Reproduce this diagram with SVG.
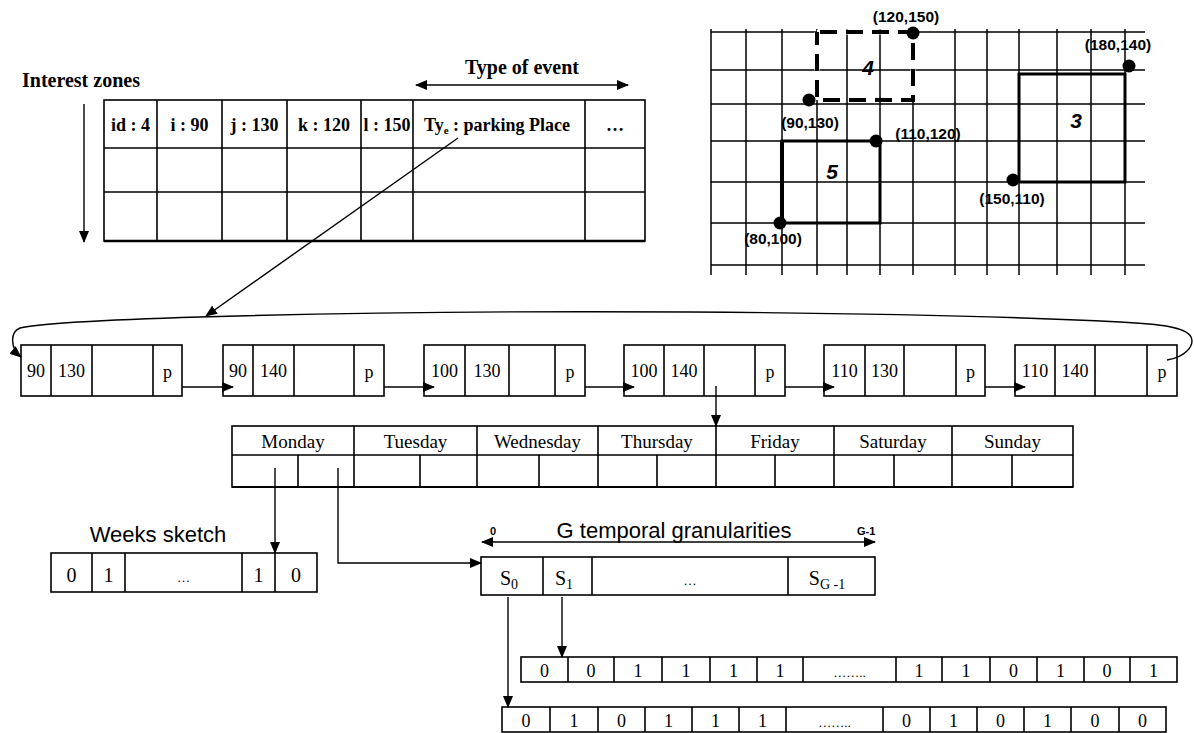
<svg xmlns="http://www.w3.org/2000/svg" width="1194" height="733" viewBox="0 0 1194 733">
<style>
.bx{fill:none;stroke:#000;stroke-width:1.6}
.ln{fill:none;stroke:#000;stroke-width:1.4}
.grid{fill:none;stroke:#000;stroke-width:1.5}
.zone{fill:none;stroke:#000;stroke-width:3}
.dash{fill:none;stroke:#000;stroke-width:4;stroke-dasharray:17,9}
.tb{font-family:"Liberation Serif","Times New Roman",serif;font-weight:bold;font-size:18px;text-anchor:middle}
.hd{font-family:"Liberation Serif","Times New Roman",serif;font-weight:bold;font-size:20px}
.co{font-family:"Liberation Sans",Arial,sans-serif;font-weight:bold;font-size:15.5px;text-anchor:middle}
.zn{font-family:"Liberation Sans",Arial,sans-serif;font-weight:bold;font-style:italic;font-size:21px;text-anchor:middle}
.ll{font-family:"Liberation Serif","Times New Roman",serif;font-size:18px;text-anchor:middle}
.dy{font-family:"Liberation Serif","Times New Roman",serif;font-size:19px;text-anchor:middle}
.bt{font-family:"Liberation Serif","Times New Roman",serif;font-size:18px;text-anchor:middle}
.wk{font-family:"Liberation Serif","Times New Roman",serif;font-size:20px;text-anchor:middle}
.ttl{font-family:"Liberation Sans",Arial,sans-serif;font-size:22px;text-anchor:middle}
.sm{font-family:"Liberation Sans",Arial,sans-serif;font-weight:bold;font-size:11px}
.dots{font-family:"Liberation Serif","Times New Roman",serif;font-size:13px;text-anchor:middle}
</style>
<defs>
<marker id="arr" markerUnits="userSpaceOnUse" markerWidth="12" markerHeight="10" refX="11" refY="5" orient="auto-start-reverse">
<path d="M0,0 L12,5 L0,10 z" fill="#000"/>
</marker>
</defs>
<rect width="1194" height="733" fill="#fff"/>

<!-- Interest zones table -->
<g id="interest-zones">
<text class="hd" x="22" y="87">Interest zones</text>
<path class="ln" d="M84,104 V242" marker-end="url(#arr)"/>
<text class="hd" x="522" y="74" text-anchor="middle">Type of event</text>
<path class="ln" d="M416,85 H628" marker-start="url(#arr)" marker-end="url(#arr)"/>
<rect class="bx" x="104" y="100" width="541" height="141"/>
<path class="bx" d="M104,148 H645 M104,192 H645 M157,100 V241 M222,100 V241 M287,100 V241 M361,100 V241 M413,100 V241 M585,100 V241"/>
<path d="M104,241 H645" stroke="#000" stroke-width="2.5"/>
<text class="tb" x="130.5" y="131">id : 4</text>
<text class="tb" x="189.5" y="131">i : 90</text>
<text class="tb" x="254.5" y="131">j : 130</text>
<text class="tb" x="324" y="131">k : 120</text>
<text class="tb" x="387" y="131">l : 150</text>
<text class="tb" x="497" y="131">Ty<tspan font-size="11" dy="3">e</tspan><tspan dy="-3"> : parking Place</tspan></text>
<text class="tb" x="615" y="131" font-weight="normal" font-size="13">…</text>
</g>

<!-- Grid with zones -->
<g id="grid">
<path class="grid" d="M711,32 H1145 M711,70 H1145 M711,104 H1145 M711,141 H1145 M711,182 H1145 M711,223 H1145 M711,265 H1145"/>
<path class="grid" d="M711,29 V275 M746,29 V275 M782,29 V275 M817,29 V275 M847,29 V275 M880,29 V275 M913,29 V275 M955,29 V275 M987,29 V275 M1019,29 V275 M1057,29 V275 M1091,29 V275 M1125,29 V275"/>
<path d="M817,32 H913 V100 M817,32 V100" stroke="#fff" stroke-width="5" fill="none"/>
</g>
<g id="zone-4">
<path class="dash" d="M820,32 H913 V100 H817 V32"/>
<circle cx="913" cy="33" r="6.5"/>
<circle cx="809" cy="100" r="6.5"/>
<text class="zn" x="868" y="75">4</text>
<text class="co" x="906" y="22">(120,150)</text>
<text class="co" x="810" y="128">(90,130)</text>
</g>
<g id="zone-5">
<path class="zone" d="M782,223 V141 H880 V223 H782"/>
<path d="M782,223 V141" stroke="#000" stroke-width="4"/>
<circle cx="780" cy="223" r="6.5"/>
<circle cx="876" cy="141" r="6.5"/>
<text class="zn" x="832" y="179">5</text>
<text class="co" x="928" y="139">(110,120)</text>
<text class="co" x="773" y="244">(80,100)</text>
</g>
<g id="zone-3">
<path class="zone" d="M1019,182 V74 H1125 V182 H1019"/>
<circle cx="1013" cy="180" r="6.5"/>
<circle cx="1129" cy="66" r="6.5"/>
<text class="zn" x="1076" y="128">3</text>
<text class="co" x="1012" y="204">(150,110)</text>
<text class="co" x="1118" y="50">(180,140)</text>
</g>

<!-- Linked list nodes -->
<g id="node-1">
<rect class="bx" x="21" y="345" width="161" height="51"/>
<path class="bx" d="M51,345 V396 M92,345 V396 M153,345 V396"/>
<text class="ll" x="36" y="377">90</text><text class="ll" x="71.5" y="377">130</text><text class="ll" x="167.5" y="378">p</text>
</g>
<g id="node-2">
<rect class="bx" x="223" y="345" width="161" height="51"/>
<path class="bx" d="M253,345 V396 M294,345 V396 M354,345 V396"/>
<text class="ll" x="238" y="377">90</text><text class="ll" x="273.5" y="377">140</text><text class="ll" x="369" y="378">p</text>
</g>
<g id="node-3">
<rect class="bx" x="424" y="345" width="161" height="51"/>
<path class="bx" d="M465,345 V396 M509,345 V396 M555,345 V396"/>
<text class="ll" x="444.5" y="377">100</text><text class="ll" x="487" y="377">130</text><text class="ll" x="570" y="378">p</text>
</g>
<g id="node-4">
<rect class="bx" x="624" y="345" width="161" height="51"/>
<path class="bx" d="M664,345 V396 M704,345 V396 M755,345 V396"/>
<text class="ll" x="644" y="377">100</text><text class="ll" x="684" y="377">140</text><text class="ll" x="770" y="378">p</text>
</g>
<g id="node-5">
<rect class="bx" x="824" y="345" width="161" height="51"/>
<path class="bx" d="M865,345 V396 M904,345 V396 M956,345 V396"/>
<text class="ll" x="844.5" y="377">110</text><text class="ll" x="884.5" y="377">130</text><text class="ll" x="970.5" y="378">p</text>
</g>
<g id="node-6">
<rect class="bx" x="1015" y="345" width="162" height="51"/>
<path class="bx" d="M1055,345 V396 M1095,345 V396 M1147,345 V396"/>
<text class="ll" x="1035" y="377">110</text><text class="ll" x="1075" y="377">140</text><text class="ll" x="1162" y="378">p</text>
</g>

<!-- Days table -->
<g id="days">
<rect class="bx" x="232" y="426" width="841" height="61"/>
<path class="bx" d="M232,455 H1073 M354,426 V487 M477,426 V487 M598,426 V487 M716,426 V487 M834,426 V487 M952,426 V487 M298,455 V487 M420,455 V487 M539,455 V487 M657,455 V487 M775,455 V487 M894,455 V487 M1012,455 V487"/>
<path d="M232,487 H1073" stroke="#000" stroke-width="2.2"/>
<text class="dy" x="293" y="448">Monday</text>
<text class="dy" x="415.5" y="448">Tuesday</text>
<text class="dy" x="537.5" y="448">Wednesday</text>
<text class="dy" x="657" y="448">Thursday</text>
<text class="dy" x="775" y="448">Friday</text>
<text class="dy" x="893" y="448">Saturday</text>
<text class="dy" x="1012.5" y="448">Sunday</text>
</g>

<!-- Weeks sketch -->
<g id="weeks-sketch">
<text class="ttl" x="158" y="542">Weeks sketch</text>
<rect class="bx" x="51" y="553" width="266" height="39"/>
<path class="bx" d="M92,553 V592 M125,553 V592 M242,553 V592 M275,553 V592"/>
<text class="wk" x="71.5" y="582">0</text><text class="wk" x="108.5" y="582">1</text>
<text class="dots" x="183.5" y="582">…</text>
<text class="wk" x="258.5" y="582">1</text><text class="wk" x="296" y="582">0</text>
</g>

<!-- G temporal granularities -->
<g id="granularities">
<text class="ttl" x="674" y="538">G temporal granularities</text>
<text class="sm" x="490" y="535">0</text>
<text class="sm" x="857" y="535">G-1</text>
<path class="ln" d="M482,542 H875" marker-start="url(#arr)" marker-end="url(#arr)"/>
<rect class="bx" x="481" y="557" width="394" height="38"/>
<path class="bx" d="M543,557 V595 M592,557 V595 M788,557 V595"/>
<text class="wk" x="509" y="585" font-size="21">S<tspan font-size="14" dy="4">0</tspan></text>
<text class="wk" x="564" y="585" font-size="21">S<tspan font-size="14" dy="4">1</tspan></text>
<text class="dots" x="690" y="585">…</text>
<text class="wk" x="827" y="585" font-size="21">S<tspan font-size="14" dy="4">G -1</tspan></text>
</g>

<!-- Bit rows -->
<g id="bits-s1">
<rect class="bx" x="521" y="657" width="656" height="25"/>
<path class="bx" d="M568,657 V682 M614,657 V682 M662,657 V682 M710,657 V682 M757,657 V682 M803,657 V682 M896,657 V682 M942,657 V682 M990,657 V682 M1037,657 V682 M1084,657 V682 M1130,657 V682"/>
<text class="bt" x="544.5" y="677">0</text><text class="bt" x="591" y="677">0</text><text class="bt" x="638" y="677">1</text><text class="bt" x="686" y="677">1</text><text class="bt" x="733.5" y="677">1</text><text class="bt" x="780" y="677">1</text>
<text class="dots" x="849.5" y="677">……..</text>
<text class="bt" x="919" y="677">1</text><text class="bt" x="966" y="677">1</text><text class="bt" x="1013.5" y="677">0</text><text class="bt" x="1060.5" y="677">1</text><text class="bt" x="1107" y="677">0</text><text class="bt" x="1153.5" y="677">1</text>
</g>
<g id="bits-s0">
<rect class="bx" x="502" y="707" width="664" height="25"/>
<path class="bx" d="M550,707 V732 M598,707 V732 M645,707 V732 M692,707 V732 M739,707 V732 M786,707 V732 M883,707 V732 M930,707 V732 M977,707 V732 M1024,707 V732 M1071,707 V732 M1119,707 V732"/>
<text class="bt" x="526" y="727">0</text><text class="bt" x="574" y="727">1</text><text class="bt" x="621.5" y="727">0</text><text class="bt" x="668.5" y="727">1</text><text class="bt" x="715.5" y="727">1</text><text class="bt" x="762.5" y="727">1</text>
<text class="dots" x="834.5" y="727">……..</text>
<text class="bt" x="906.5" y="727">0</text><text class="bt" x="953.5" y="727">1</text><text class="bt" x="1000.5" y="727">0</text><text class="bt" x="1047.5" y="727">1</text><text class="bt" x="1095" y="727">0</text><text class="bt" x="1142.5" y="727">0</text>
</g>

<!-- Connectors -->
<g id="connectors">
<path class="ln" d="M458,138 L206,316" marker-end="url(#arr)"/>
<path class="ln" stroke-width="1.8" d="M1167,360 C1185,357 1195,346 1191,337 C1186,327 1160,324 1120,322 C900,311 500,308 200,317 C100,320 40,323 20,328 C10,332 10,348 21,357" marker-end="url(#arr)"/>
<path class="ln" stroke-width="2" d="M182,387 H233" marker-end="url(#arr)"/>
<path class="ln" stroke-width="2" d="M384,387 H434" marker-end="url(#arr)"/>
<path class="ln" stroke-width="2" d="M585,387 H634" marker-end="url(#arr)"/>
<path class="ln" stroke-width="2" d="M785,387 H834" marker-end="url(#arr)"/>
<path class="ln" stroke-width="2" d="M985,387 H1025" marker-end="url(#arr)"/>
<path class="ln" d="M716,386 V426" marker-end="url(#arr)"/>
<path class="ln" d="M275,468 V553" marker-end="url(#arr)"/>
<path class="ln" d="M338,468 V563 H481" marker-end="url(#arr)"/>
<path class="ln" d="M508,597 V707" marker-end="url(#arr)"/>
<path class="ln" d="M562,597 V657" marker-end="url(#arr)"/>
</g>
</svg>
